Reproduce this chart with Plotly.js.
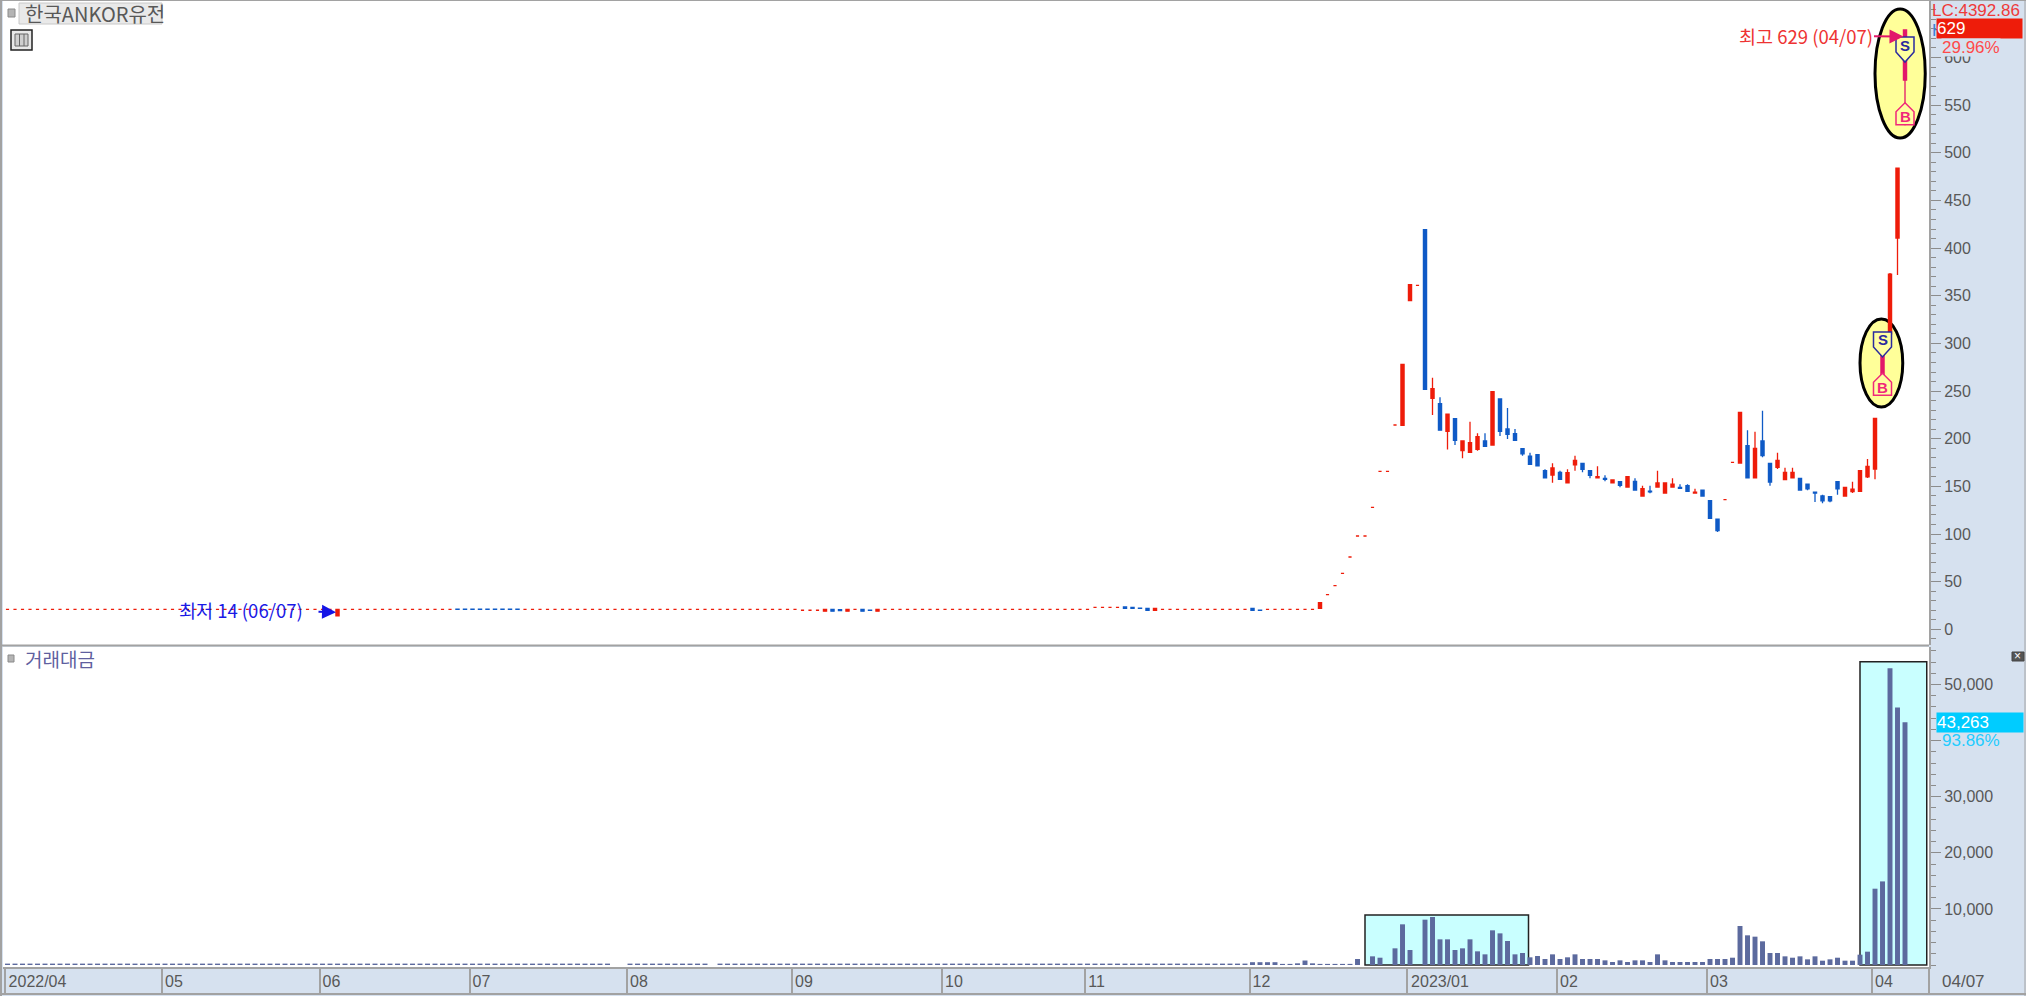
<!DOCTYPE html>
<html><head><meta charset="utf-8">
<script src="https://cdn.plot.ly/plotly-3.0.1.min.js"></script>
<style>html,body{margin:0;padding:0;background:#d6e1ef;overflow:hidden}#c{width:2026px;height:996px}</style>
</head><body><div id="c"></div>
<script>
// --- price data: long quiet stretch (bar 0-174), one bar per trading day
const quietOpen = [
21,21,21,21,21,21,21,21,21,21, 21,21,21,21,21,21,21,21,21,21,
21,21,21,21,21,21,21,21,21,21, 21,21,21,21,21,21,21,21,21,21,
21,21,21,21,14,21,21,21,21,21, 21,21,21,21,21,21,21,21,21,21,
21.2,21.2,21.2,21.2,21.2,21.2,21.2,21.2,21.2,21, 21,21,21,21,21,21,21,21,21,21,
21,21,21,21,21,21,21,21,21,21, 21,21,21,21,21,21,21,21,21,21,
21,21,21,21,21,21,20,20,20,19, 21,20.5,19,21,21,20.2,19,21,21,21,
21,21,21,21,21,21,21,21,21,21, 21,21,21,21,21,21,21,21,21,21,
21,21,21,21,21,23,23,23,23,23.5, 23,22.2,22,20,21,21,21,21,21,21,
21,21,21,21,21,21,22,20.2,21,21, 21,21,21,21,21];
const quietClose = [
21,21,21,21,21,21,21,21,21,21, 21,21,21,21,21,21,21,21,21,21,
21,21,21,21,21,21,21,21,21,21, 21,21,21,21,21,21,21,21,21,21,
21,21,21,21,21,21,21,21,21,21, 21,21,21,21,21,21,21,21,21,21,
21,21,21,21,21,21,21,21,21,21, 21,21,21,21,21,21,21,21,21,21,
21,21,21,21,21,21,21,21,21,21, 21,21,21,21,21,21,21,21,21,21,
21,21,21,21,21,21,20,20,20,21, 19,19.5,21,21,19,20,21,21,21,21,
21,21,21,21,21,21,21,21,21,21, 21,21,21,21,21,21,21,21,21,21,
21,21,21,21,21,23,23,23,23,22, 22,22,20,22,21,21,21,21,21,21,
21,21,21,21,21,21,20,20,21,21, 21,21,21,21,21];
// --- active stretch (bar 175-253)
const activeOpen = [22,36.3,45.8,58.7,75.9,97.9,97.9,128,165.8,165.8,
214.4,214,345,361,419.4,242.4,236.7,207.7,221,187.4,
185.7,188.8,197.6,193.4,241.7,210.2,205.3,189.5,181.8,183.2,
166.4,161.9,164.7,153.8,172.7,174.2,166.4,158.8,158.4,153.8,
154.9,149.3,155.3,139.9,145.1,149.3,143,149.3,149,150.7,
143,145.9,134.9,115.7,136,175.2,174.5,192.7,158.8,197.6,
174.2,170,157,158.8,158.4,152.2,144,139.9,139.1,154.9,
139.9,144.4,144.8,160.1,168.2,262,310,410.6,576.4];
const activeHigh = [28,36.3,45.8,58.7,75.9,97.9,97.9,128,165.8,165.8,
214.4,278,361.6,361,419.4,264,243.4,225.9,221,197.6,
217.9,205.7,205.7,249.3,241.7,232.2,210.2,189.5,185.3,183.2,
167.9,174.2,166.4,167.9,182.2,174.2,166.4,171,161.6,156.7,
154.9,160.1,158.4,150.7,150.7,166.4,153.5,158.4,152.2,152.2,
147.5,145.9,134.9,115.7,136,175.2,227.7,208.8,207.4,229.4,
174.2,185.3,169.6,169.6,158.4,152.2,144,141.2,139.1,154.9,
149,154.9,166.4,178.7,221.4,288,374,484,629];
const activeLow = [22,36.3,45.8,58.7,75.9,97.9,97.9,128,165.8,165.8,
214.4,214,344.8,361,251.8,224.9,209,188.8,193.4,179.4,
185.7,187.4,192,193.4,202.8,199.7,198.3,182.2,173.1,171.4,
158.8,153.8,157.4,153.8,166.4,164.7,158.4,158.8,155.3,153.8,
149,149.3,146.2,139.9,142.7,149.3,143,149.3,148,144.8,
143,139.9,116.4,102.1,136,175.2,174.5,158.8,158.8,180.5,
150.7,168.2,157,158.8,146.2,145.9,133.6,132.2,133.3,141.2,
139.9,143,144.8,158.8,157.4,250,300,371.8,529];
const activeClose = [28,36.3,45.8,58.7,75.9,97.9,97.9,128,165.8,165.8,
214.4,278,361.6,361,251.8,252.5,209,225.9,198.3,197.6,
195.8,202.1,192,249.3,207.7,204.6,198.3,184,173.1,171.4,
158.8,169.3,157.4,164.3,177.3,167.9,161.6,160.1,157.4,156.7,
151.1,160.1,146.2,147.5,144.2,153.5,153.5,152.2,148,144.8,
144,139.9,116.4,103.5,136,175.2,227.7,158.8,189.9,182.2,
154.6,177.3,164.7,164.7,146.2,147.5,143,134.9,134.9,147.5,
149,147.2,166.4,171,221.4,288,372.8,484,629];
// bars drawn in the signal colour (inside the S/B marks)
const signalBars = [250,253];
// --- traded value, bar 0-253
const tradedValue = [
250,250,250,250,250,250,250,250,250,250, 250,250,250,250,250,250,250,250,250,250,
250,250,250,250,250,250,250,250,250,250, 250,250,250,250,250,250,250,250,250,250,
250,250,250,250,250,250,250,250,250,250, 250,250,250,250,250,250,250,250,250,250,
250,250,250,250,250,250,250,250,250,250, 250,250,250,250,250,250,250,250,250,250,
250,0,0,250,250,250,250,250,250,250, 250,250,250,250,0,250,250,250,250,250,
250,250,250,250,250,250,250,250,250,250, 250,250,250,250,250,250,250,250,250,250,
250,250,250,250,250,250,250,250,250,250, 250,250,250,250,250,250,250,250,250,250,
250,250,250,250,250,250,250,250,250,250, 250,250,250,250,250,250,250,250,250,250,
250,250,250,250,250,250,500,500,500,500, 200,200,300,800,300,200,200,200,200,200,
1070,0,1545,1300,0,2970,7250,2670,0,8080, 8560,4575,4575,2670,2970,4575,2435,1900,6180,5640,
4280,1900,2140,1370,1600,1070,1900,1070,1370,1900, 1070,1070,1070,830,530,830,530,830,830,530,
1900,830,530,530,530,530,530,1070,1070,1070, 1300,6950,5290,5050,4220,2140,2140,1545,1300,1545,
1010,1545,770,1010,1300,770,770,1840,2375,13600, 14900,52900,45900,43263];
// --- time axis
const monthShortBars = [21,42,62,83,105,125,144,166,207,227,249];
const monthShortText = ['05','06','07','08','09','10','11','12','02','03','04'];
const monthLongBars = [0,187];
const monthLongText = ['2022/04','2023/01'];
// --- value axes
const priceTicks = [0,50,100,150,200,250,300,350,400,450,500,550,600];
const valueTicks = [10000,20000,30000,40000,50000];
const valueTickText = ['10,000','20,000','30,000','','50,000'];

const RED='#ee1c0a', BLUE='#0f5ac6', PINK='#e2186a', PANEL='#d6e1ef', GRAY='#a2a2a2', TXT='#585858';
const FONT='"Liberation Sans","Noto Sans CJK KR",sans-serif';
const KFONT='"Noto Sans CJK KR","Liberation Sans",sans-serif';

const open_ = quietOpen.concat(activeOpen), close_ = quietClose.concat(activeClose);
const high = quietOpen.map((o,i)=>Math.max(o,quietClose[i])).concat(activeHigh);
const low  = quietOpen.map((o,i)=>Math.min(o,quietClose[i])).concat(activeLow);
const bars = open_.map((_,i)=>i);

function candles(idx,color){
  const style={line:{color:color,width:1.3},fillcolor:color};
  return {type:'candlestick',xaxis:'x',yaxis:'y',x:idx,
    open:idx.map(i=>open_[i]),high:idx.map(i=>high[i]),low:idx.map(i=>low[i]),close:idx.map(i=>close_[i]),
    increasing:style,decreasing:style,whiskerwidth:0,showlegend:false,hoverinfo:'skip'};
}
const isSig=i=>signalBars.includes(i);
const traces=[
  candles(bars.filter(i=>!isSig(i)&&close_[i]>=open_[i]),RED),
  candles(bars.filter(i=>!isSig(i)&&close_[i]<open_[i]),BLUE),
  candles(signalBars,PINK),
  {type:'bar',xaxis:'x2',yaxis:'y2',x:bars,y:tradedValue,marker:{color:'#5c6a9e',line:{width:0}},showlegend:false,hoverinfo:'skip'},
  {type:'scatter',mode:'markers',xaxis:'x3',yaxis:'y2',x:monthLongBars,y:[0,0],marker:{size:1,opacity:0},showlegend:false,hoverinfo:'skip'}
];

// page-pixel helpers for the window furniture only
const X=p=>(p-3)/1926, Y=p=>(967-p)/966;
const label=(text,l,cy,color,size,extra)=>Object.assign({text,xref:'paper',yref:'paper',x:X(l),y:Y(cy),xanchor:'left',yanchor:'middle',
  showarrow:false,borderpad:0,font:{family:FONT,size,color}},extra||{});
const rectP=(x0,y0,x1,y1,fill,line,w)=>({type:'rect',xref:'paper',yref:'paper',x0:X(x0),x1:X(x1),y0:Y(y0),y1:Y(y1),fillcolor:fill,line:{color:line,width:w===undefined?1:w}});
const pent=(i,v,path,col)=>({type:'path',xref:'x',yref:'y',xsizemode:'pixel',ysizemode:'pixel',xanchor:i,yanchor:v,path,fillcolor:'#ffffa0',line:{color:col,width:1.5}});
const PATH_S='M -9 10 L 9 10 L 9 -5 L 0 -15 L -9 -5 Z', PATH_B='M 0 12 L 9 3 L 9 -10 L -9 -10 L -9 3 Z';
const mark=(t,i,v,color)=>({text:'<b>'+t+'</b>',xref:'x',yref:'y',x:i,y:v,showarrow:false,font:{family:FONT,size:15,color}});

const shapes=[
  {type:'circle',layer:'below',xref:'x',yref:'y',x0:249,x1:255.7,y0:515.5,y1:651,fillcolor:'#ffff99',line:{color:'#000',width:3}},
  {type:'circle',layer:'below',xref:'x',yref:'y',x0:247,x1:252.7,y0:233.3,y1:325.6,fillcolor:'#ffff99',line:{color:'#000',width:3}},
  {type:'rect',layer:'below',xref:'x2',yref:'y2',x0:181,x1:202.8,y0:0,y1:8913,fillcolor:'#c9ffff',line:{color:'#222',width:1.5}},
  {type:'rect',layer:'below',xref:'x2',yref:'y2',x0:247,x1:255.9,y0:0,y1:54064,fillcolor:'#c9ffff',line:{color:'#222',width:1.5}},
  pent(253,611,PATH_S,'#2a2a9e'), pent(253,540,PATH_B,'#f0287a'),
  pent(250,301.5,PATH_S,'#2a2a9e'), pent(250,256,PATH_B,'#f0287a'),
  // pane separator and window frame
  {type:'line',xref:'paper',yref:'paper',x0:X(0),x1:X(1929),y0:Y(645.5),y1:Y(645.5),line:{color:GRAY,width:2}},
  {type:'line',xref:'paper',yref:'paper',x0:X(1),x1:X(1),y0:Y(0),y1:Y(996),line:{color:GRAY,width:2}},
  {type:'line',xref:'paper',yref:'paper',x0:X(0),x1:X(2026),y0:Y(0.5),y1:Y(0.5),line:{color:GRAY,width:1}},
  {type:'line',xref:'paper',yref:'paper',x0:X(0),x1:X(2026),y0:Y(994),y1:Y(994),line:{color:GRAY,width:2}},
  {type:'line',xref:'paper',yref:'paper',x0:X(2025),x1:X(2025),y0:Y(0),y1:Y(996),line:{color:GRAY,width:1}},
  {type:'line',xref:'paper',yref:'paper',x0:X(1929),x1:X(1929),y0:Y(967),y1:Y(994),line:{color:GRAY,width:2}},
  // title tag and small icons
  rectP(19,3,162,24,'#e9e9e9','#c8c8c8'),
  rectP(8,9,15,17,'#b4b4b4','#8a8a8a'),
  rectP(8,655,14,662,'#b4b4b4','#8a8a8a'),
  rectP(11,30,32,50,'#e8e8e8','#222',1.5),
  rectP(15,34,28,46,'#cfcfcf','#666',1),
  {type:'line',xref:'paper',yref:'paper',x0:X(19.5),x1:X(19.5),y0:Y(34),y1:Y(46),line:{color:'#666',width:1}},
  {type:'line',xref:'paper',yref:'paper',x0:X(24),x1:X(24),y0:Y(34),y1:Y(46),line:{color:'#666',width:1}},
  rectP(2012,652,2024,661,'#555','#444')
];

const annotations=[
  label('한국ANKOR유전',24,13.5,TXT,20,{font:{family:KFONT,size:20,color:TXT}}),
  label('거래대금',24,658,'#5f5f9f',19,{font:{family:KFONT,size:19,color:'#5f5f9f'}}),
  {text:'최고 629 (04/07)',xref:'x',yref:'y',x:252.8,y:622,showarrow:true,arrowhead:2,arrowsize:1.4,arrowwidth:2,arrowcolor:PINK,ax:-98,ay:-1,
    font:{family:KFONT,size:18.5,color:'#ee3333'}},
  {text:'최저 14 (06/07)',xref:'x',yref:'y',x:43.8,y:18,showarrow:true,arrowhead:2,arrowsize:1.4,arrowwidth:2,arrowcolor:'#1414e6',ax:-95,ay:-2,startstandoff:14,
    font:{family:KFONT,size:18.5,color:'#1a1ae6'}},
  mark('S',253,613,'#2a2a9e'), mark('B',253,538,'#f0287a'),
  mark('S',250,304,'#2a2a9e'), mark('B',250,254,'#f0287a'),
  label('H',1931,30,'#3a7fd5',17),
  label('629',1936,28.5,'#ffffff',17,{width:85,height:19,align:'left',bgcolor:RED}),
  label('LC:4392.86',1931,11,'#ee3a3a',17),
  label('29.96%',1941,47,'#ff4a4a',17,{bgcolor:PANEL,height:17}),
  label('43,263',1936,722,'#ffffff',17,{width:86,height:19,align:'left',bgcolor:'#00ccff'}),
  label('93.86%',1941,740,'#22ccff',17),
  label('04/07',1941,981,TXT,17),
  {text:'×',xref:'paper',yref:'paper',x:X(2018),y:Y(656),xanchor:'center',yanchor:'middle',showarrow:false,font:{family:FONT,size:12,color:'#fff'}}
];

const xBase={type:'linear',range:[-0.6,256.2],fixedrange:true,showgrid:false,zeroline:false};
const yBase={side:'right',fixedrange:true,showgrid:false,zeroline:false,showline:true,linecolor:GRAY,linewidth:2,
  ticks:'outside',ticklen:10,tickwidth:1,tickcolor:'#8c8c8c',tickmode:'array',tickfont:{family:FONT,size:16,color:TXT}};
const xStrip={ticks:'outside',ticklen:26,tickwidth:2,tickcolor:GRAY,tickmode:'array',ticklabelstandoff:-27,
  tickfont:{family:FONT,size:16,color:TXT},showline:true,linecolor:GRAY,linewidth:2};

const layout={
  width:2026,height:996,margin:{l:3,r:97,t:1,b:29,pad:0},
  paper_bgcolor:PANEL,plot_bgcolor:'#ffffff',showlegend:false,boxgap:0.4,bargap:0.34,dragmode:false,
  xaxis:Object.assign({},xBase,{domain:[0,1],anchor:'y',showticklabels:false,ticks:'',rangeslider:{visible:false}}),
  yaxis:Object.assign({},yBase,{domain:[0.3333,1],anchor:'x',range:[-16.5,659.3],tickvals:priceTicks,ticktext:priceTicks.map(String),
    minor:{dtick:10,tick0:0,ticks:'outside',ticklen:5,tickcolor:'#8c8c8c',tickwidth:1}}),
  xaxis2:Object.assign({},xBase,xStrip,{domain:[0,1],anchor:'y2',tickvals:monthShortBars.map(b=>b-0.4),ticktext:monthShortText,ticklabelshift:12}),
  xaxis3:Object.assign({},xBase,xStrip,{overlaying:'x2',anchor:'y2',tickvals:monthLongBars.map(b=>b-0.4),ticktext:monthLongText,ticklabelshift:33}),
  yaxis2:Object.assign({},yBase,{domain:[0,0.3313],anchor:'x2',range:[-356,56684],tickvals:valueTicks,ticktext:valueTickText,
    minor:{dtick:2000,tick0:0,ticks:'outside',ticklen:5,tickcolor:'#8c8c8c',tickwidth:1}}),
  shapes,annotations
};
Plotly.newPlot('c',traces,layout,{displayModeBar:false,responsive:false,staticPlot:true});
</script></body></html>
